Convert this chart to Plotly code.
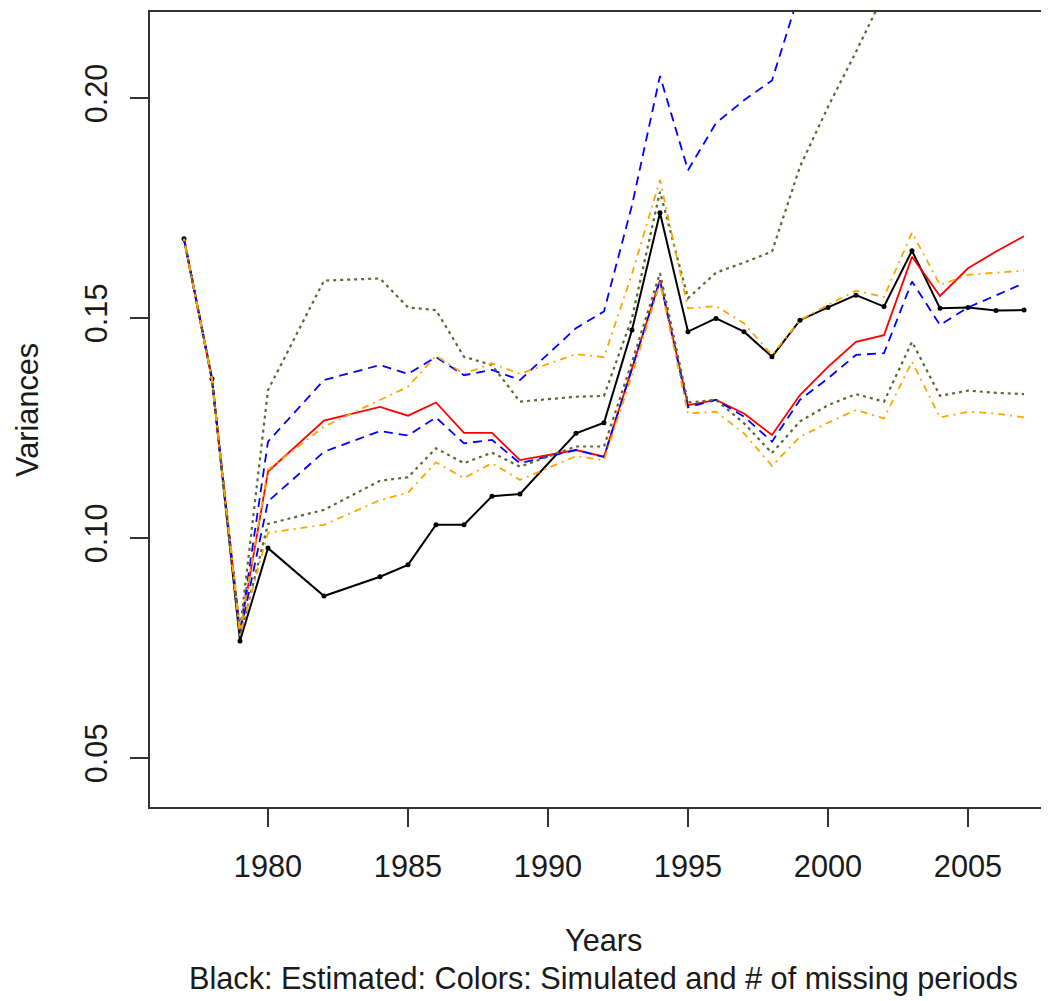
import plotly.graph_objects as go

years = [1977, 1978, 1979, 1980, 1982, 1984, 1985, 1986, 1987, 1988, 1989, 1991, 1992,
         1993, 1994, 1995, 1996, 1997, 1998, 1999, 2000, 2001, 2002, 2003, 2004, 2005, 2006, 2007]

black = [0.168, 0.1362, 0.0766, 0.0977, 0.0868, 0.0912, 0.0939, 0.1030, 0.1030, 0.1095, 0.1100, 0.1238, 0.1262,
         0.1473, 0.1739, 0.1469, 0.1499, 0.1469, 0.1412, 0.1495, 0.1524, 0.1552, 0.1526, 0.1653, 0.1522, 0.1524, 0.1517, 0.1518]
red = [0.168, 0.136, 0.0785, 0.1151, 0.1267, 0.1298, 0.1278, 0.1308, 0.1239, 0.1239, 0.1177, 0.1200, 0.1185,
       0.1385, 0.1586, 0.1302, 0.1314, 0.1283, 0.1234, 0.1325, 0.1389, 0.1446, 0.1461, 0.1639, 0.1550, 0.1613, 0.1651, 0.1686]
blue_hi = [0.168, 0.136, 0.0785, 0.1219, 0.1359, 0.1393, 0.1373, 0.1411, 0.1370, 0.1382, 0.1359, 0.1477, 0.1515,
           0.1756, 0.2050, 0.1836, 0.1943, 0.1995, 0.2040, 0.2243, 0.2350, 0.2450, 0.2520, 0.2700, 0.2620, 0.2660, 0.2700, 0.2750]
blue_lo = [0.168, 0.136, 0.0780, 0.1083, 0.1196, 0.1243, 0.1233, 0.1274, 0.1215, 0.1223, 0.1170, 0.1200, 0.1184,
           0.1385, 0.1586, 0.1297, 0.1314, 0.1276, 0.1219, 0.1314, 0.1363, 0.1416, 0.1420, 0.1583, 0.1484, 0.1524, 0.1552, 0.1579]
green_hi = [0.168, 0.136, 0.0790, 0.1336, 0.1585, 0.1590, 0.1524, 0.1518, 0.1412, 0.1393, 0.1310, 0.1321, 0.1323,
            0.1500, 0.1787, 0.1545, 0.1603, 0.1626, 0.1651, 0.1844, 0.1980, 0.2105, 0.2236, 0.2400, 0.2350, 0.2380, 0.2400, 0.2420]
green_lo = [0.168, 0.136, 0.0775, 0.1032, 0.1064, 0.1130, 0.1138, 0.1204, 0.1170, 0.1194, 0.1162, 0.1208, 0.1208,
            0.1400, 0.1602, 0.1308, 0.1314, 0.1261, 0.1193, 0.1265, 0.1302, 0.1327, 0.1310, 0.1446, 0.1323, 0.1335, 0.1330, 0.1327]
orange_hi = [0.168, 0.136, 0.0790, 0.1155, 0.1253, 0.1314, 0.1344, 0.1414, 0.1373, 0.1397, 0.1373, 0.1418, 0.1411,
             0.1600, 0.1814, 0.1522, 0.1527, 0.1488, 0.1416, 0.1495, 0.1530, 0.1562, 0.1548, 0.1694, 0.1575, 0.1598, 0.1603, 0.1608]
orange_lo = [0.168, 0.136, 0.0780, 0.1012, 0.1030, 0.1086, 0.1103, 0.1172, 0.1136, 0.1170, 0.1132, 0.1186, 0.1177,
             0.1370, 0.1580, 0.1283, 0.1287, 0.1238, 0.1164, 0.1230, 0.1262, 0.1291, 0.1272, 0.1401, 0.1274, 0.1287, 0.1283, 0.1274]

x_ticks = [1980, 1985, 1990, 1995, 2000, 2005]
y_ticks = [0.05, 0.10, 0.15, 0.20]
y_tick_labels = ["0.05", "0.10", "0.15", "0.20"]

FONT = "Liberation Sans, Arial, sans-serif"
FS = 30.7
BLUE_DASH = "9px,6px"
GREEN_DOT = "3px,4px"
ORANGE_DASHDOT = "2px,5px,7px,5px"

fig = go.Figure()
fig.add_trace(go.Scatter(x=years, y=black, mode="lines+markers",
                         line=dict(color="black", width=2),
                         marker=dict(color="black", size=5)))
fig.add_trace(go.Scatter(x=years, y=red, mode="lines", line=dict(color="red", width=1.8)))
for s in (blue_hi, blue_lo):
    fig.add_trace(go.Scatter(x=years, y=s, mode="lines", line=dict(color="blue", width=1.8, dash=BLUE_DASH)))
for s in (green_hi, green_lo):
    fig.add_trace(go.Scatter(x=years, y=s, mode="lines", line=dict(color="#556B2F", width=2.2, dash=GREEN_DOT)))
for s in (orange_hi, orange_lo):
    fig.add_trace(go.Scatter(x=years, y=s, mode="lines", line=dict(color="orange", width=1.8, dash=ORANGE_DASHDOT)))

fig.update_layout(
    width=1041, height=993,
    margin=dict(l=142, r=0, t=4, b=194),
    paper_bgcolor="white", plot_bgcolor="white",
    showlegend=False,
    font=dict(family=FONT, size=FS, color="#1a1a1a"),
    xaxis=dict(range=[1975.786, 2007.893], tickvals=x_ticks, ticks="outside", ticklen=18,
               tickwidth=2, tickcolor="#333", showline=True, linecolor="#333", linewidth=2,
               mirror=True, showgrid=False, zeroline=False, ticklabelstandoff=13,
               tickfont=dict(size=FS)),
    yaxis=dict(range=[0.03886, 0.21955], tickvals=y_ticks, ticktext=y_tick_labels, ticks="outside",
               ticklen=18, tickwidth=2, tickcolor="#333", showline=True, linecolor="#333",
               linewidth=2, showgrid=False, zeroline=False, tickangle=-90, ticklabelstandoff=11,
               tickfont=dict(size=FS)),
    annotations=[
        dict(text="Years", x=0.505, y=-0.1673, xref="paper", yref="paper", showarrow=False,
             xanchor="center", yanchor="middle", font=dict(size=FS)),
        dict(text="Black: Estimated: Colors: Simulated and # of missing periods", x=0.505, y=-0.2151,
             xref="paper", yref="paper", showarrow=False, xanchor="center", yanchor="middle",
             font=dict(size=FS)),
        dict(text="Variances", x=-0.1357, y=0.4994, xref="paper", yref="paper", showarrow=False,
             xanchor="center", yanchor="middle", textangle=-90, font=dict(size=FS)),
    ],
)

fig.write_html("out.html")
